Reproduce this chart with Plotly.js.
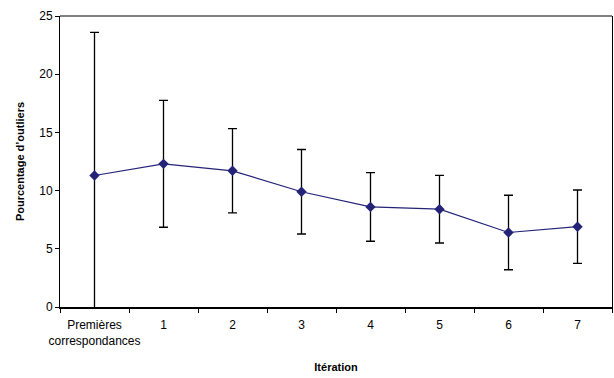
<!DOCTYPE html>
<html>
<head>
<meta charset="utf-8">
<script src="https://cdn.plot.ly/plotly-3.0.1.min.js"></script>
<style>html,body{margin:0;padding:0;background:#fff;}#chart{width:614px;height:378px;}</style>
</head>
<body>
<div id="chart"></div>
<script>
var categories = ["Premières<br>correspondances", "1", "2", "3", "4", "5", "6", "7"];
var values = [11.3, 12.3, 11.7, 9.9, 8.6, 8.4, 6.4, 6.9];
var errPlus = [12.3, 5.45, 3.62, 3.63, 2.95, 2.9, 3.2, 3.15];
var errMinus = [12.3, 5.45, 3.62, 3.63, 2.95, 2.9, 3.2, 3.15];
var yTicks = [0, 5, 10, 15, 20, 25];

var trace = {
  x: categories,
  y: values,
  type: 'scatter',
  mode: 'lines+markers',
  line: {color: '#232378', width: 1.2},
  marker: {symbol: 'diamond', size: 8, color: '#232378'},
  error_y: {type: 'data', symmetric: false, array: errPlus, arrayminus: errMinus,
            color: '#000', thickness: 1.3, width: 4.5},
  cliponaxis: true
};

var font = {family: 'Arial, "Liberation Sans", sans-serif', size: 11, color: '#000'};
var tfont = {family: 'Arial, "Liberation Sans", sans-serif', size: 12, color: '#000'};
var layout = {
  width: 614, height: 378,
  margin: {l: 60, r: 2, t: 16, b: 71},
  paper_bgcolor: '#fff', plot_bgcolor: '#fff',
  showlegend: false,
  font: font,
  xaxis: {
    type: 'category',
    range: [-0.5, 7.5],
    showgrid: false, zeroline: false,
    showline: true, linewidth: 2, linecolor: '#000',
    ticks: 'outside', ticklen: 4, tickwidth: 1, tickcolor: '#000',
    tickson: 'boundaries',
    tickangle: 0,
    ticklabelstandoff: 6,
    tickfont: tfont,
    title: {text: '<b>Itération</b>', font: font, standoff: 16},
    automargin: false
  },
  yaxis: {
    range: [0, 25],
    tickvals: yTicks,
    showgrid: false, zeroline: false,
    showline: true, linewidth: 1, linecolor: '#000', mirror: true,
    ticks: 'outside', ticklen: 4, tickcolor: '#000',
    tickfont: tfont,
    title: {text: '<b>Pourcentage d\u2019outliers</b>', font: font, standoff: 12}
  },
  shapes: [{type: 'line', xref: 'paper', yref: 'paper', x0: 0, x1: 1, y0: 1, y1: 1,
            line: {color: '#000', width: 1}}]
};
Plotly.newPlot('chart', [trace], layout, {displayModeBar: false, staticPlot: true});
</script>
</body>
</html>
